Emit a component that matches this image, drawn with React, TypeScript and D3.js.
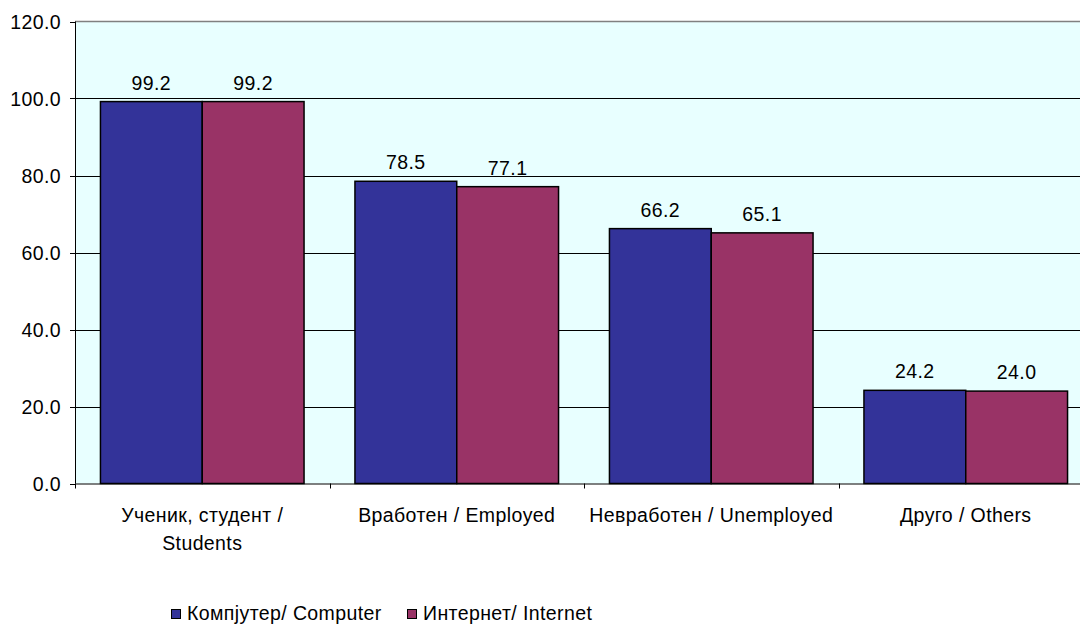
import React from "react";
import * as d3 from "d3";

const categories = ["Ученик, студент / Students", "Вработен / Employed", "Невработен / Unemployed", "Друго / Others"];
const categoryLines = [["Ученик, студент /", "Students"], ["Вработен / Employed"], ["Невработен / Unemployed"], ["Друго / Others"]];
const seriesNames = ["Компјутер/ Computer", "Интернет/ Internet"];
const computer = [99.2, 78.5, 66.2, 24.2];
const internet = [99.2, 77.1, 65.1, 24.0];
const yTicks = [0, 20, 40, 60, 80, 100, 120];
const colors = ["#333399", "#993366"];

export default function App() {
  React.useEffect(() => {
    document.body.style.margin = "0";
  }, []);
  const W = 1080, H = 624;
  const left = 75, top = 21.5, bottom = 483.5, right = 1093;
  const y = d3.scaleLinear().domain([0, 120]).range([bottom, top]);
  const x0 = d3.scaleBand().domain(categories).range([left, right]).paddingInner(0).paddingOuter(0);
  const bw = x0.bandwidth() / 2.5;
  const series = [computer, internet];
  const font = "'Liberation Sans', Arial, sans-serif";
  const fs = 19.5;
  const ls = 0.4;
  return (
    <svg width={W} height={H} style={{ display: "block", fontFamily: font, letterSpacing: ls }}>
      <rect x={left} y={top} width={right - left} height={bottom - top} fill="#E8FFFF" />
      {yTicks.slice(1, -1).map((t) => (
        <line key={t} x1={left} x2={right} y1={Math.round(y(t)) + 0.5} y2={Math.round(y(t)) + 0.5} stroke="#000" strokeWidth={1} />
      ))}
      <line x1={left} x2={right} y1={top} y2={top} stroke="#808080" strokeWidth={1.5} />
      {categories.map((c, i) =>
        series.map((s, j) => {
          const xs = (x0(c) as number) + bw * 0.25 + j * bw;
          return (
            <rect key={c + j} x={xs} y={y(s[i])} width={bw} height={bottom - y(s[i])} fill={colors[j]} stroke="#000" strokeWidth={1.5} />
          );
        })
      )}
      {categories.map((c, i) =>
        series.map((s, j) => {
          const xs = (x0(c) as number) + bw * 0.25 + j * bw + bw / 2;
          return (
            <text key={"l" + c + j} x={xs} y={y(s[i]) - 12} textAnchor="middle" fontSize={fs} fill="#000">
              {s[i].toFixed(1)}
            </text>
          );
        })
      )}
      <line x1={left + 0.5} x2={left + 0.5} y1={top} y2={bottom} stroke="#000" strokeWidth={1} />
      <line x1={left} x2={right} y1={bottom + 0.5} y2={bottom + 0.5} stroke="#000" strokeWidth={1} />
      {yTicks.map((t) => (
        <g key={"yt" + t}>
          <line x1={left - 5} x2={left} y1={Math.round(y(t)) + 0.5} y2={Math.round(y(t)) + 0.5} stroke="#000" />
          <text x={61} y={y(t) + 7.5} textAnchor="end" fontSize={fs} fill="#000">
            {t.toFixed(1)}
          </text>
        </g>
      ))}
      {categories.map((c, i) => (
        <line key={"xt" + i} x1={Math.round(x0(c) as number) + 0.5} x2={Math.round(x0(c) as number) + 0.5} y1={bottom} y2={bottom + 5} stroke="#000" />
      ))}
      {categories.map((c, i) => {
        const cx = (x0(c) as number) + x0.bandwidth() / 2;
        return (
          <text key={"cl" + i} textAnchor="middle" fontSize={fs} fill="#000">
            {categoryLines[i].map((ln, k) => (
              <tspan key={k} x={cx} y={522 + k * 28}>
                {ln}
              </tspan>
            ))}
          </text>
        );
      })}
      {seriesNames.map((n, j) => {
        const lx = [171, 407][j];
        return (
          <g key={"lg" + j}>
            <rect x={lx + 0.5} y={609.5} width={9} height={9} fill={colors[j]} stroke="#000" strokeWidth={1} />
            <text x={lx + 16} y={620} fontSize={fs} fill="#000">
              {n}
            </text>
          </g>
        );
      })}
    </svg>
  );
}
